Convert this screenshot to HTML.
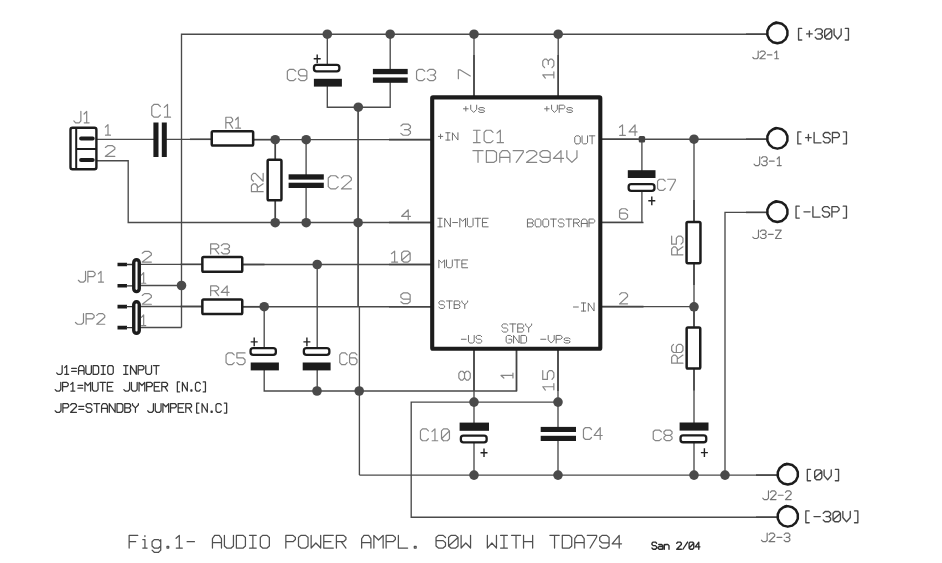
<!DOCTYPE html>
<html><head><meta charset="utf-8"><title>TDA7294 amplifier schematic</title>
<style>html,body{margin:0;padding:0;background:#fff;font-family:"Liberation Sans",sans-serif}svg{display:block}</style>
</head><body>
<svg width="942" height="563" viewBox="0 0 942 563">
<polyline points="181.5,327.5 181.5,34.2 767.0,34.2" fill="none" stroke="#4a4a4a" stroke-width="1.35"/>
<polyline points="140.0,285.5 181.5,285.5" fill="none" stroke="#4a4a4a" stroke-width="1.35"/>
<polyline points="140.0,327.5 181.5,327.5" fill="none" stroke="#4a4a4a" stroke-width="1.35"/>
<polyline points="327.3,34.2 327.3,65.0" fill="none" stroke="#4a4a4a" stroke-width="1.35"/>
<polyline points="327.3,85.0 327.3,107.2 390.2,107.2 390.2,81.0" fill="none" stroke="#4a4a4a" stroke-width="1.35"/>
<polyline points="390.2,34.2 390.2,70.0" fill="none" stroke="#4a4a4a" stroke-width="1.35"/>
<polyline points="358.1,107.2 358.1,306.8" fill="none" stroke="#4a4a4a" stroke-width="1.70"/>
<polyline points="359.4,306.8 359.4,475.1" fill="none" stroke="#4a4a4a" stroke-width="1.35"/>
<polyline points="474.0,34.2 474.0,97.0" fill="none" stroke="#4a4a4a" stroke-width="1.35"/>
<polyline points="558.2,34.2 558.2,97.0" fill="none" stroke="#4a4a4a" stroke-width="1.35"/>
<polyline points="96.0,139.3 154.0,139.3" fill="none" stroke="#4a4a4a" stroke-width="1.35"/>
<polyline points="166.0,139.3 212.0,139.3" fill="none" stroke="#4a4a4a" stroke-width="1.35"/>
<polyline points="253.0,139.6 431.0,139.6" fill="none" stroke="#4a4a4a" stroke-width="1.35"/>
<polyline points="275.3,139.6 275.3,160.0" fill="none" stroke="#4a4a4a" stroke-width="1.35"/>
<polyline points="275.3,200.0 275.3,222.5" fill="none" stroke="#4a4a4a" stroke-width="1.35"/>
<polyline points="306.1,139.6 306.1,175.0" fill="none" stroke="#4a4a4a" stroke-width="1.35"/>
<polyline points="306.1,187.0 306.1,222.5" fill="none" stroke="#4a4a4a" stroke-width="1.35"/>
<polyline points="96.0,160.7 128.2,160.7 128.2,222.5 431.0,222.5" fill="none" stroke="#4a4a4a" stroke-width="1.35"/>
<polyline points="140.0,264.4 202.0,264.4" fill="none" stroke="#4a4a4a" stroke-width="1.35"/>
<polyline points="242.0,264.5 431.0,264.5" fill="none" stroke="#4a4a4a" stroke-width="1.35"/>
<polyline points="317.2,264.5 317.2,349.0" fill="none" stroke="#4a4a4a" stroke-width="1.35"/>
<polyline points="140.0,306.5 202.0,306.5" fill="none" stroke="#4a4a4a" stroke-width="1.35"/>
<polyline points="242.0,306.7 431.0,306.7" fill="none" stroke="#4a4a4a" stroke-width="1.35"/>
<polyline points="264.2,306.7 264.2,349.0" fill="none" stroke="#4a4a4a" stroke-width="1.35"/>
<polyline points="264.2,369.0 264.2,391.0 516.5,391.0 516.5,350.0" fill="none" stroke="#4a4a4a" stroke-width="1.35"/>
<polyline points="317.2,369.0 317.2,391.0" fill="none" stroke="#4a4a4a" stroke-width="1.35"/>
<polyline points="474.0,350.0 474.0,424.0" fill="none" stroke="#4a4a4a" stroke-width="1.35"/>
<polyline points="474.0,442.0 474.0,475.1" fill="none" stroke="#4a4a4a" stroke-width="1.35"/>
<polyline points="558.0,350.0 558.0,428.0" fill="none" stroke="#4a4a4a" stroke-width="1.35"/>
<polyline points="558.0,440.0 558.0,475.1" fill="none" stroke="#4a4a4a" stroke-width="1.35"/>
<polyline points="558.0,402.1 411.2,402.1 411.2,517.2 777.0,517.2" fill="none" stroke="#4a4a4a" stroke-width="1.35"/>
<polyline points="359.4,475.1 777.0,475.1" fill="none" stroke="#4a4a4a" stroke-width="1.35"/>
<polyline points="602.0,139.2 767.0,139.2" fill="none" stroke="#4a4a4a" stroke-width="1.35"/>
<polyline points="641.9,139.2 641.9,171.0" fill="none" stroke="#4a4a4a" stroke-width="1.35"/>
<polyline points="641.9,191.0 641.9,222.4 602.0,222.4" fill="none" stroke="#4a4a4a" stroke-width="1.35"/>
<polyline points="694.0,139.2 694.0,222.0" fill="none" stroke="#4a4a4a" stroke-width="1.35"/>
<polyline points="694.0,263.0 694.0,327.0" fill="none" stroke="#4a4a4a" stroke-width="1.35"/>
<polyline points="694.0,368.0 694.0,423.5" fill="none" stroke="#4a4a4a" stroke-width="1.35"/>
<polyline points="694.0,442.0 694.0,475.1" fill="none" stroke="#4a4a4a" stroke-width="1.35"/>
<polyline points="602.0,306.6 694.0,306.6" fill="none" stroke="#4a4a4a" stroke-width="1.35"/>
<polyline points="767.0,212.4 725.0,212.4 725.0,475.1" fill="none" stroke="#4a4a4a" stroke-width="1.35"/>
<polyline points="389.0,139.6 431.0,139.6" fill="none" stroke="#444444" stroke-width="1.55"/>
<polyline points="389.0,222.5 431.0,222.5" fill="none" stroke="#444444" stroke-width="1.55"/>
<polyline points="389.0,264.5 431.0,264.5" fill="none" stroke="#444444" stroke-width="1.55"/>
<polyline points="389.0,306.7 431.0,306.7" fill="none" stroke="#444444" stroke-width="1.55"/>
<polyline points="602.0,139.2 643.5,139.2" fill="none" stroke="#444444" stroke-width="1.55"/>
<polyline points="602.0,222.4 643.5,222.4" fill="none" stroke="#444444" stroke-width="1.55"/>
<polyline points="602.0,306.6 643.5,306.6" fill="none" stroke="#444444" stroke-width="1.55"/>
<polyline points="474.0,55.0 474.0,97.0" fill="none" stroke="#444444" stroke-width="1.55"/>
<polyline points="558.2,55.0 558.2,97.0" fill="none" stroke="#444444" stroke-width="1.55"/>
<polyline points="474.0,350.0 474.0,391.0" fill="none" stroke="#444444" stroke-width="1.55"/>
<polyline points="516.5,350.0 516.5,391.0" fill="none" stroke="#444444" stroke-width="1.55"/>
<polyline points="558.0,350.0 558.0,391.0" fill="none" stroke="#444444" stroke-width="1.55"/>
<polyline points="190.0,139.3 211.0,139.3" fill="none" stroke="#444444" stroke-width="1.55"/>
<polyline points="254.0,139.6 275.3,139.6" fill="none" stroke="#444444" stroke-width="1.55"/>
<polyline points="180.5,264.4 201.5,264.4" fill="none" stroke="#444444" stroke-width="1.55"/>
<polyline points="243.0,264.5 264.5,264.5" fill="none" stroke="#444444" stroke-width="1.55"/>
<polyline points="180.5,306.5 201.5,306.5" fill="none" stroke="#444444" stroke-width="1.55"/>
<polyline points="243.0,306.7 264.5,306.7" fill="none" stroke="#444444" stroke-width="1.55"/>
<polyline points="694.0,200.0 694.0,221.0" fill="none" stroke="#444444" stroke-width="1.55"/>
<polyline points="694.0,264.0 694.0,285.0" fill="none" stroke="#444444" stroke-width="1.55"/>
<polyline points="694.0,306.8 694.0,326.5" fill="none" stroke="#444444" stroke-width="1.55"/>
<polyline points="694.0,369.5 694.0,390.5" fill="none" stroke="#444444" stroke-width="1.55"/>
<polyline points="275.3,139.6 275.3,159.0" fill="none" stroke="#444444" stroke-width="1.55"/>
<polyline points="275.3,201.0 275.3,222.5" fill="none" stroke="#444444" stroke-width="1.55"/>
<polyline points="746.0,34.2 767.0,34.2" fill="none" stroke="#444444" stroke-width="1.55"/>
<polyline points="746.0,139.2 767.0,139.2" fill="none" stroke="#444444" stroke-width="1.55"/>
<polyline points="746.0,212.4 767.0,212.4" fill="none" stroke="#444444" stroke-width="1.55"/>
<polyline points="756.0,475.1 777.5,475.1" fill="none" stroke="#444444" stroke-width="1.55"/>
<polyline points="756.0,517.2 777.5,517.2" fill="none" stroke="#444444" stroke-width="1.55"/>
<circle cx="327.3" cy="34.2" r="4.8" fill="#4a4a4a"/>
<circle cx="390.2" cy="34.2" r="4.8" fill="#4a4a4a"/>
<circle cx="474.0" cy="34.2" r="4.8" fill="#4a4a4a"/>
<circle cx="558.2" cy="34.2" r="4.8" fill="#4a4a4a"/>
<circle cx="358.3" cy="107.2" r="4.8" fill="#4a4a4a"/>
<circle cx="275.2" cy="139.7" r="4.8" fill="#4a4a4a"/>
<circle cx="306.2" cy="139.7" r="4.8" fill="#4a4a4a"/>
<circle cx="275.2" cy="222.7" r="4.8" fill="#4a4a4a"/>
<circle cx="306.2" cy="222.7" r="4.8" fill="#4a4a4a"/>
<circle cx="358.1" cy="222.7" r="4.8" fill="#4a4a4a"/>
<circle cx="181.5" cy="285.5" r="4.8" fill="#4a4a4a"/>
<circle cx="317.2" cy="264.5" r="4.8" fill="#4a4a4a"/>
<circle cx="264.2" cy="306.7" r="4.8" fill="#4a4a4a"/>
<circle cx="317.0" cy="391.0" r="4.8" fill="#4a4a4a"/>
<circle cx="359.2" cy="391.0" r="4.8" fill="#4a4a4a"/>
<circle cx="474.0" cy="402.1" r="4.8" fill="#4a4a4a"/>
<circle cx="558.0" cy="402.1" r="4.8" fill="#4a4a4a"/>
<circle cx="474.0" cy="475.1" r="4.8" fill="#4a4a4a"/>
<circle cx="558.0" cy="475.1" r="4.8" fill="#4a4a4a"/>
<circle cx="694.0" cy="475.1" r="4.8" fill="#4a4a4a"/>
<circle cx="725.0" cy="475.1" r="4.8" fill="#4a4a4a"/>
<circle cx="694.0" cy="139.2" r="4.8" fill="#4a4a4a"/>
<circle cx="694.0" cy="306.8" r="4.8" fill="#4a4a4a"/>
<rect x="638.7" y="136.0" width="6.4" height="6.4" rx="1.5" fill="#444"/>
<rect x="70.50" y="127.80" width="25.90" height="41.40" rx="2.0" fill="#fff" stroke="#1c1c1c" stroke-width="2.40"/>
<path d="M76.2 127 V170 M76.2 149 H97" stroke="#1c1c1c" stroke-width="2.0" fill="none"/>
<path d="M81.1 138.6 H92.7 M81.1 160.1 H92.7" stroke="#1c1c1c" stroke-width="4.0" stroke-linecap="round" fill="none"/>
<rect x="153.4" y="122.5" width="5.1" height="34.5" fill="#1c1c1c"/>
<rect x="161.8" y="122.5" width="5.0" height="34.5" fill="#1c1c1c"/>
<rect x="211.75" y="131.15" width="41.40" height="14.40" rx="1.3" fill="#fff" stroke="#1c1c1c" stroke-width="2.50"/>
<rect x="267.65" y="159.85" width="13.80" height="40.40" rx="1.3" fill="#fff" stroke="#1c1c1c" stroke-width="2.50"/>
<rect x="202.35" y="257.05" width="39.90" height="14.70" rx="1.3" fill="#fff" stroke="#1c1c1c" stroke-width="2.50"/>
<rect x="202.35" y="299.55" width="39.90" height="14.50" rx="1.3" fill="#fff" stroke="#1c1c1c" stroke-width="2.50"/>
<rect x="686.55" y="222.05" width="13.90" height="41.10" rx="1.3" fill="#fff" stroke="#1c1c1c" stroke-width="2.50"/>
<rect x="686.65" y="327.55" width="13.60" height="41.00" rx="1.3" fill="#fff" stroke="#1c1c1c" stroke-width="2.50"/>
<rect x="288.6" y="174.3" width="35.2" height="5.3" fill="#1c1c1c"/>
<rect x="288.6" y="182.7" width="35.2" height="5.3" fill="#1c1c1c"/>
<rect x="372.9" y="68.9" width="34.8" height="5.3" fill="#1c1c1c"/>
<rect x="372.9" y="77.5" width="34.8" height="5.3" fill="#1c1c1c"/>
<rect x="540.7" y="426.9" width="35.3" height="5.1" fill="#1c1c1c"/>
<rect x="540.7" y="435.8" width="35.3" height="5.2" fill="#1c1c1c"/>
<rect x="313.95" y="64.85" width="25.40" height="6.60" rx="2.6" fill="#fff" stroke="#1c1c1c" stroke-width="2.30"/>
<rect x="313.9" y="78.8" width="28.0" height="7.8" fill="#1c1c1c"/>
<path d="M313.7 58.8 H320.7 M317.2 54.5 V63.2" stroke="#222" stroke-width="1.40" fill="none"/>
<rect x="250.55" y="348.15" width="25.30" height="6.70" rx="2.6" fill="#fff" stroke="#1c1c1c" stroke-width="2.30"/>
<rect x="250.7" y="362.5" width="28.2" height="7.9" fill="#1c1c1c"/>
<path d="M250.7 341.9 H257.7 M254.2 337.6 V346.3" stroke="#222" stroke-width="1.40" fill="none"/>
<rect x="303.85" y="348.15" width="25.50" height="6.70" rx="2.6" fill="#fff" stroke="#1c1c1c" stroke-width="2.30"/>
<rect x="302.7" y="362.5" width="27.9" height="7.9" fill="#1c1c1c"/>
<path d="M303.4 341.9 H310.4 M306.9 337.6 V346.3" stroke="#222" stroke-width="1.40" fill="none"/>
<rect x="627.8" y="170.2" width="27.7" height="7.8" fill="#1c1c1c"/>
<rect x="628.65" y="184.15" width="25.80" height="6.70" rx="2.6" fill="#fff" stroke="#1c1c1c" stroke-width="2.30"/>
<path d="M648.3 200.8 H655.3 M651.8 196.5 V205.2" stroke="#222" stroke-width="1.40" fill="none"/>
<rect x="679.6" y="422.5" width="28.9" height="8.1" fill="#1c1c1c"/>
<rect x="680.55" y="435.45" width="25.70" height="6.80" rx="2.6" fill="#fff" stroke="#1c1c1c" stroke-width="2.30"/>
<path d="M700.9 452.6 H707.9 M704.4 448.3 V457.0" stroke="#222" stroke-width="1.40" fill="none"/>
<rect x="459.6" y="422.6" width="29.4" height="8.2" fill="#1c1c1c"/>
<rect x="460.85" y="435.55" width="25.80" height="6.80" rx="2.6" fill="#fff" stroke="#1c1c1c" stroke-width="2.30"/>
<path d="M480.5 452.7 H487.5 M484.0 448.4 V457.1" stroke="#222" stroke-width="1.40" fill="none"/>
<path d="M117.5 264.5 H127 M117.5 285.8 H127" stroke="#1c1c1c" stroke-width="3.6" fill="none"/>
<path d="M126 264.5 H134 M126 285.8 H134" stroke="#333" stroke-width="1.3" fill="none"/>
<rect x="133.75" y="259.7" width="5.5" height="31.9" rx="2.75" fill="#fff" stroke="#1c1c1c" stroke-width="3.4"/>
<path d="M117.5 306.6 H127 M117.5 327.6 H127" stroke="#1c1c1c" stroke-width="3.6" fill="none"/>
<path d="M126 306.6 H134 M126 327.6 H134" stroke="#333" stroke-width="1.3" fill="none"/>
<rect x="133.75" y="301.8" width="5.5" height="31.5" rx="2.75" fill="#fff" stroke="#1c1c1c" stroke-width="3.4"/>
<rect x="432.2" y="97.4" width="168.1" height="251.4" rx="0.8" fill="none" stroke="#1c1c1c" stroke-width="4.1" stroke-linejoin="round"/>
<polygon points="787.39,35.28 785.41,39.39 781.85,42.23 777.40,43.25 772.95,42.23 769.39,39.39 767.41,35.28 767.41,30.72 769.39,26.61 772.95,23.77 777.40,22.75 781.85,23.77 785.41,26.61 787.39,30.72" fill="#fff" stroke="#1c1c1c" stroke-width="2.5" stroke-linejoin="round"/>
<path d="M774.2 23.1 L776.2 22.4" stroke="#1c1c1c" stroke-width="2.2" stroke-linecap="round"/>
<polygon points="787.39,140.68 785.41,144.79 781.85,147.63 777.40,148.65 772.95,147.63 769.39,144.79 767.41,140.68 767.41,136.12 769.39,132.01 772.95,129.17 777.40,128.15 781.85,129.17 785.41,132.01 787.39,136.12" fill="#fff" stroke="#1c1c1c" stroke-width="2.5" stroke-linejoin="round"/>
<path d="M774.2 128.5 L776.2 127.8" stroke="#1c1c1c" stroke-width="2.2" stroke-linecap="round"/>
<polygon points="787.39,213.98 785.41,218.09 781.85,220.93 777.40,221.95 772.95,220.93 769.39,218.09 767.41,213.98 767.41,209.42 769.39,205.31 772.95,202.47 777.40,201.45 781.85,202.47 785.41,205.31 787.39,209.42" fill="#fff" stroke="#1c1c1c" stroke-width="2.5" stroke-linejoin="round"/>
<path d="M774.2 201.8 L776.2 201.1" stroke="#1c1c1c" stroke-width="2.2" stroke-linecap="round"/>
<polygon points="797.79,476.58 795.81,480.69 792.25,483.53 787.80,484.55 783.35,483.53 779.79,480.69 777.81,476.58 777.81,472.02 779.79,467.91 783.35,465.07 787.80,464.05 792.25,465.07 795.81,467.91 797.79,472.02" fill="#fff" stroke="#1c1c1c" stroke-width="2.5" stroke-linejoin="round"/>
<path d="M784.6 464.4 L786.6 463.7" stroke="#1c1c1c" stroke-width="2.2" stroke-linecap="round"/>
<polygon points="797.79,518.68 795.81,522.79 792.25,525.63 787.80,526.65 783.35,525.63 779.79,522.79 777.81,518.68 777.81,514.12 779.79,510.01 783.35,507.17 787.80,506.15 792.25,507.17 795.81,510.01 797.79,514.12" fill="#fff" stroke="#1c1c1c" stroke-width="2.5" stroke-linejoin="round"/>
<path d="M784.6 506.5 L786.6 505.8" stroke="#1c1c1c" stroke-width="2.2" stroke-linecap="round"/>
<path d="M73.85 120.93 L75.61 122.85 L79.13 122.85 L80.88 120.93 L80.88 111.35 M84.05 114.03 L86.69 111.35 L86.69 122.85 M84.23 122.85 L89.15 122.85" fill="none" stroke="#858585" stroke-width="1.20" stroke-linecap="round" stroke-linejoin="round"/>
<path d="M105.35 127.10 L107.99 124.65 L107.99 135.15 M105.53 135.15 L110.45 135.15" fill="none" stroke="#858585" stroke-width="1.20" stroke-linecap="round" stroke-linejoin="round"/>
<path d="M105.35 147.43 L107.73 145.65 L112.47 145.65 L114.85 147.43 L114.85 149.22 L105.35 156.35 L114.85 156.35" fill="none" stroke="#858585" stroke-width="1.20" stroke-linecap="round" stroke-linejoin="round"/>
<path d="M160.39 106.57 L158.23 104.45 L153.91 104.45 L151.75 106.57 L151.75 115.03 L153.91 117.15 L158.23 117.15 L160.39 115.03 M164.28 107.41 L167.52 104.45 L167.52 117.15 M164.50 117.15 L170.55 117.15" fill="none" stroke="#858585" stroke-width="1.20" stroke-linecap="round" stroke-linejoin="round"/>
<path d="M225.85 128.15 L225.85 117.25 L230.92 117.25 L232.61 119.07 L232.61 120.88 L230.92 122.70 L225.85 122.70 M229.23 122.70 L232.61 128.15 M235.65 119.79 L238.18 117.25 L238.18 128.15 M235.82 128.15 L240.55 128.15" fill="none" stroke="#858585" stroke-width="1.20" stroke-linecap="round" stroke-linejoin="round"/>
<path d="M295.74 71.23 L293.64 69.35 L289.45 69.35 L287.35 71.23 L287.35 78.77 L289.45 80.65 L293.64 80.65 L295.74 78.77 M298.46 78.77 L300.56 80.65 L304.75 80.65 L306.85 78.77 L306.85 71.23 L304.75 69.35 L300.56 69.35 L298.46 71.23 L298.46 74.06 L300.56 75.94 L306.85 75.94" fill="none" stroke="#858585" stroke-width="1.20" stroke-linecap="round" stroke-linejoin="round"/>
<path d="M424.72 71.23 L422.68 69.35 L418.59 69.35 L416.55 71.23 L416.55 78.77 L418.59 80.65 L422.68 80.65 L424.72 78.77 M427.38 71.23 L429.42 69.35 L433.51 69.35 L435.55 71.23 L435.55 73.12 L433.51 75.00 L430.44 75.00 M433.51 75.00 L435.55 76.88 L435.55 78.77 L433.51 80.65 L429.42 80.65 L427.38 78.77" fill="none" stroke="#858585" stroke-width="1.20" stroke-linecap="round" stroke-linejoin="round"/>
<path d="M400.85 125.92 L403.25 124.05 L408.05 124.05 L410.45 125.92 L410.45 127.78 L408.05 129.65 L404.45 129.65 M408.05 129.65 L410.45 131.52 L410.45 133.38 L408.05 135.25 L403.25 135.25 L400.85 133.38" fill="none" stroke="#858585" stroke-width="1.20" stroke-linecap="round" stroke-linejoin="round"/>
<path d="M408.25 219.55 L408.25 209.75 L401.65 216.28 L410.45 216.28" fill="none" stroke="#858585" stroke-width="1.20" stroke-linecap="round" stroke-linejoin="round"/>
<path d="M338.19 177.93 L335.70 175.75 L330.73 175.75 L328.25 177.93 L328.25 186.67 L330.73 188.85 L335.70 188.85 L338.19 186.67 M341.41 177.93 L343.90 175.75 L348.87 175.75 L351.35 177.93 L351.35 180.12 L341.41 188.85 L351.35 188.85" fill="none" stroke="#858585" stroke-width="1.20" stroke-linecap="round" stroke-linejoin="round"/>
<path d="M78.35 280.27 L80.15 282.05 L83.75 282.05 L85.55 280.27 L85.55 271.35 M87.89 282.05 L87.89 271.35 L93.29 271.35 L95.09 273.13 L95.09 274.92 L93.29 276.70 L87.89 276.70 M98.33 273.85 L101.03 271.35 L101.03 282.05 M98.51 282.05 L103.55 282.05" fill="none" stroke="#858585" stroke-width="1.20" stroke-linecap="round" stroke-linejoin="round"/>
<path d="M75.45 322.48 L77.46 324.25 L81.47 324.25 L83.48 322.48 L83.48 313.65 M86.09 324.25 L86.09 313.65 L92.11 313.65 L94.11 315.42 L94.11 317.18 L92.11 318.95 L86.09 318.95 M96.72 315.42 L98.73 313.65 L102.74 313.65 L104.75 315.42 L104.75 317.18 L96.72 324.25 L104.75 324.25" fill="none" stroke="#858585" stroke-width="1.20" stroke-linecap="round" stroke-linejoin="round"/>
<path d="M142.25 253.22 L144.53 251.45 L149.08 251.45 L151.35 253.22 L151.35 254.98 L142.25 262.05 L151.35 262.05" fill="none" stroke="#858585" stroke-width="1.20" stroke-linecap="round" stroke-linejoin="round"/>
<path d="M141.45 275.12 L143.67 272.65 L143.67 283.25 M141.60 283.25 L145.75 283.25" fill="none" stroke="#858585" stroke-width="1.20" stroke-linecap="round" stroke-linejoin="round"/>
<path d="M142.25 295.42 L144.53 293.65 L149.08 293.65 L151.35 295.42 L151.35 297.18 L142.25 304.25 L151.35 304.25" fill="none" stroke="#858585" stroke-width="1.20" stroke-linecap="round" stroke-linejoin="round"/>
<path d="M141.45 317.35 L143.67 314.85 L143.67 325.55 M141.60 325.55 L145.75 325.55" fill="none" stroke="#858585" stroke-width="1.20" stroke-linecap="round" stroke-linejoin="round"/>
<path d="M210.65 253.95 L210.65 243.85 L216.71 243.85 L218.74 245.53 L218.74 247.22 L216.71 248.90 L210.65 248.90 M214.69 248.90 L218.74 253.95 M221.36 245.53 L223.39 243.85 L227.43 243.85 L229.45 245.53 L229.45 247.22 L227.43 248.90 L224.40 248.90 M227.43 248.90 L229.45 250.58 L229.45 252.27 L227.43 253.95 L223.39 253.95 L221.36 252.27" fill="none" stroke="#858585" stroke-width="1.20" stroke-linecap="round" stroke-linejoin="round"/>
<path d="M210.65 295.55 L210.65 285.95 L216.62 285.95 L218.61 287.55 L218.61 289.15 L216.62 290.75 L210.65 290.75 M214.63 290.75 L218.61 295.55 M227.16 295.55 L227.16 285.95 L221.19 292.35 L229.15 292.35" fill="none" stroke="#858585" stroke-width="1.20" stroke-linecap="round" stroke-linejoin="round"/>
<path d="M234.22 354.88 L232.18 352.95 L228.09 352.95 L226.05 354.88 L226.05 362.62 L228.09 364.55 L232.18 364.55 L234.22 362.62 M245.05 352.95 L236.88 352.95 L236.88 357.78 L243.01 357.78 L245.05 359.72 L245.05 362.62 L243.01 364.55 L238.92 364.55 L236.88 362.62" fill="none" stroke="#858585" stroke-width="1.20" stroke-linecap="round" stroke-linejoin="round"/>
<path d="M347.15 354.88 L345.30 352.95 L341.60 352.95 L339.75 354.88 L339.75 362.62 L341.60 364.55 L345.30 364.55 L347.15 362.62 M356.95 354.88 L355.10 352.95 L351.40 352.95 L349.55 354.88 L349.55 362.62 L351.40 364.55 L355.10 364.55 L356.95 362.62 L356.95 359.72 L355.10 357.78 L349.55 357.78" fill="none" stroke="#858585" stroke-width="1.20" stroke-linecap="round" stroke-linejoin="round"/>
<path d="M391.45 253.69 L394.64 251.15 L394.64 262.05 M391.66 262.05 L397.61 262.05 M403.78 262.05 L401.65 260.23 L401.65 252.97 L403.78 251.15 L408.03 251.15 L410.15 252.97 L410.15 260.23 L408.03 262.05 L403.78 262.05 M401.65 260.23 L410.15 252.97" fill="none" stroke="#858585" stroke-width="1.20" stroke-linecap="round" stroke-linejoin="round"/>
<path d="M400.85 301.78 L403.17 303.55 L407.83 303.55 L410.15 301.78 L410.15 294.72 L407.83 292.95 L403.17 292.95 L400.85 294.72 L400.85 297.37 L403.17 299.13 L410.15 299.13" fill="none" stroke="#858585" stroke-width="1.20" stroke-linecap="round" stroke-linejoin="round"/>
<path d="M473.45 142.65 L480.12 142.65 M476.78 142.65 L476.78 130.25 M473.45 130.25 L480.12 130.25 M493.01 132.32 L490.78 130.25 L486.34 130.25 L484.12 132.32 L484.12 140.58 L486.34 142.65 L490.78 142.65 L493.01 140.58 M497.01 133.14 L500.34 130.25 L500.34 142.65 M497.23 142.65 L503.45 142.65" fill="none" stroke="#858585" stroke-width="1.20" stroke-linecap="round" stroke-linejoin="round"/>
<path d="M472.95 150.65 L483.07 150.65 M478.01 150.65 L478.01 162.35 M486.36 162.35 L486.36 150.65 L493.95 150.65 L496.48 152.60 L496.48 160.40 L493.95 162.35 L486.36 162.35 M499.77 162.35 L499.77 153.57 L502.30 150.65 L507.36 150.65 L509.89 153.57 L509.89 162.35 M499.77 157.28 L509.89 157.28 M513.18 150.65 L523.31 150.65 L523.31 152.21 L516.22 162.35 M526.59 152.60 L529.13 150.65 L534.19 150.65 L536.72 152.60 L536.72 154.55 L526.59 162.35 L536.72 162.35 M540.01 160.40 L542.54 162.35 L547.60 162.35 L550.13 160.40 L550.13 152.60 L547.60 150.65 L542.54 150.65 L540.01 152.60 L540.01 155.53 L542.54 157.47 L550.13 157.47 M561.01 162.35 L561.01 150.65 L553.42 158.45 L563.54 158.45 M566.83 150.65 L566.83 157.47 L571.89 162.35 L576.95 157.47 L576.95 150.65" fill="none" stroke="#858585" stroke-width="1.20" stroke-linecap="round" stroke-linejoin="round"/>
<path d="M619.55 127.32 L622.53 124.85 L622.53 135.45 M619.75 135.45 L625.32 135.45 M635.06 135.45 L635.06 124.85 L629.10 131.92 L637.05 131.92" fill="none" stroke="#858585" stroke-width="1.20" stroke-linecap="round" stroke-linejoin="round"/>
<path d="M627.55 210.48 L625.55 208.75 L621.55 208.75 L619.55 210.48 L619.55 217.42 L621.55 219.15 L625.55 219.15 L627.55 217.42 L627.55 214.82 L625.55 213.08 L619.55 213.08" fill="none" stroke="#858585" stroke-width="1.20" stroke-linecap="round" stroke-linejoin="round"/>
<path d="M619.55 294.60 L621.55 292.75 L625.55 292.75 L627.55 294.60 L627.55 296.45 L619.55 303.85 L627.55 303.85" fill="none" stroke="#858585" stroke-width="1.20" stroke-linecap="round" stroke-linejoin="round"/>
<path d="M665.21 181.10 L663.29 179.25 L659.46 179.25 L657.55 181.10 L657.55 188.50 L659.46 190.35 L663.29 190.35 L665.21 188.50 M667.69 179.25 L675.35 179.25 L675.35 180.73 L669.99 190.35" fill="none" stroke="#858585" stroke-width="1.20" stroke-linecap="round" stroke-linejoin="round"/>
<path d="M661.34 431.82 L659.31 430.05 L655.27 430.05 L653.25 431.82 L653.25 438.88 L655.27 440.65 L659.31 440.65 L661.34 438.88 M665.99 435.35 L663.96 433.58 L663.96 431.82 L665.99 430.05 L670.03 430.05 L672.05 431.82 L672.05 433.58 L670.03 435.35 L665.99 435.35 L663.96 437.12 L663.96 438.88 L665.99 440.65 L670.03 440.65 L672.05 438.88 L672.05 437.12 L670.03 435.35" fill="none" stroke="#858585" stroke-width="1.20" stroke-linecap="round" stroke-linejoin="round"/>
<path d="M428.40 430.83 L426.41 428.85 L422.44 428.85 L420.45 430.83 L420.45 438.77 L422.44 440.75 L426.41 440.75 L428.40 438.77 M431.97 431.63 L434.95 428.85 L434.95 440.75 M432.17 440.75 L437.73 440.75 M443.49 440.75 L441.50 438.77 L441.50 430.83 L443.49 428.85 L447.46 428.85 L449.45 430.83 L449.45 438.77 L447.46 440.75 L443.49 440.75 M441.50 438.77 L449.45 430.83" fill="none" stroke="#858585" stroke-width="1.20" stroke-linecap="round" stroke-linejoin="round"/>
<path d="M591.54 429.53 L589.51 427.55 L585.47 427.55 L583.45 429.53 L583.45 437.47 L585.47 439.45 L589.51 439.45 L591.54 437.47 M600.23 439.45 L600.23 427.55 L594.16 435.48 L602.25 435.48" fill="none" stroke="#858585" stroke-width="1.20" stroke-linecap="round" stroke-linejoin="round"/>
<path d="M752.85 57.47 L754.18 58.75 L756.84 58.75 L758.18 57.47 L758.18 51.05 M759.91 52.33 L761.24 51.05 L763.90 51.05 L765.23 52.33 L765.23 53.62 L759.91 58.75 L765.23 58.75 M767.36 54.90 L771.89 54.90 M774.69 52.85 L776.69 51.05 L776.69 58.75 M774.82 58.75 L778.55 58.75" fill="none" stroke="#747474" stroke-width="1.15" stroke-linecap="round" stroke-linejoin="round"/>
<path d="M754.05 164.08 L755.46 165.55 L758.28 165.55 L759.69 164.08 L759.69 156.75 M761.52 158.22 L762.93 156.75 L765.75 156.75 L767.16 158.22 L767.16 159.68 L765.75 161.15 L763.63 161.15 M765.75 161.15 L767.16 162.62 L767.16 164.08 L765.75 165.55 L762.93 165.55 L761.52 164.08 M769.41 161.15 L774.20 161.15 M777.16 158.80 L779.28 156.75 L779.28 165.55 M777.30 165.55 L781.25 165.55" fill="none" stroke="#747474" stroke-width="1.15" stroke-linecap="round" stroke-linejoin="round"/>
<path d="M752.75 237.07 L754.18 238.45 L757.05 238.45 L758.48 237.07 L758.48 230.15 M760.34 231.53 L761.77 230.15 L764.64 230.15 L766.07 231.53 L766.07 232.92 L764.64 234.30 L762.49 234.30 M764.64 234.30 L766.07 235.68 L766.07 237.07 L764.64 238.45 L761.77 238.45 L760.34 237.07 M768.36 234.30 L773.23 234.30 M775.52 230.15 L781.25 230.15 L775.52 238.45 L781.25 238.45" fill="none" stroke="#747474" stroke-width="1.15" stroke-linecap="round" stroke-linejoin="round"/>
<path d="M762.75 498.10 L764.18 499.55 L767.03 499.55 L768.46 498.10 L768.46 490.85 M770.31 492.30 L771.74 490.85 L774.60 490.85 L776.02 492.30 L776.02 493.75 L770.31 499.55 L776.02 499.55 M778.31 495.20 L783.16 495.20 M785.44 492.30 L786.87 490.85 L789.72 490.85 L791.15 492.30 L791.15 493.75 L785.44 499.55 L791.15 499.55" fill="none" stroke="#747474" stroke-width="1.15" stroke-linecap="round" stroke-linejoin="round"/>
<path d="M761.45 540.23 L762.88 541.65 L765.73 541.65 L767.16 540.23 L767.16 533.15 M769.01 534.57 L770.44 533.15 L773.30 533.15 L774.72 534.57 L774.72 535.98 L769.01 541.65 L774.72 541.65 M777.01 537.40 L781.86 537.40 M784.14 534.57 L785.57 533.15 L788.42 533.15 L789.85 534.57 L789.85 535.98 L788.42 537.40 L786.28 537.40 M788.42 537.40 L789.85 538.82 L789.85 540.23 L788.42 541.65 L785.57 541.65 L784.14 540.23" fill="none" stroke="#747474" stroke-width="1.15" stroke-linecap="round" stroke-linejoin="round"/>
<path d="M263.15 191.65 L251.45 191.65 L251.45 185.75 L253.40 183.78 L255.35 183.78 L257.30 185.75 L257.30 191.65 M257.30 187.71 L263.15 183.78 M253.40 181.22 L251.45 179.25 L251.45 175.32 L253.40 173.35 L255.35 173.35 L263.15 181.22 L263.15 173.35" fill="none" stroke="#858585" stroke-width="1.20" stroke-linecap="round" stroke-linejoin="round"/>
<path d="M458.35 78.65 L458.35 69.85 L459.94 69.85 L470.25 76.01" fill="none" stroke="#858585" stroke-width="1.20" stroke-linecap="round" stroke-linejoin="round"/>
<path d="M545.34 78.15 L542.75 74.89 L553.85 74.89 M553.85 77.93 L553.85 71.86 M544.60 67.73 L542.75 65.56 L542.75 61.22 L544.60 59.05 L546.45 59.05 L548.30 61.22 L548.30 64.48 M548.30 61.22 L550.15 59.05 L552.00 59.05 L553.85 61.22 L553.85 65.56 L552.00 67.73" fill="none" stroke="#858585" stroke-width="1.20" stroke-linecap="round" stroke-linejoin="round"/>
<path d="M464.55 377.93 L462.65 380.15 L460.75 380.15 L458.85 377.93 L458.85 373.48 L460.75 371.25 L462.65 371.25 L464.55 373.48 L464.55 377.93 L466.45 380.15 L468.35 380.15 L470.25 377.93 L470.25 373.48 L468.35 371.25 L466.45 371.25 L464.55 373.48" fill="none" stroke="#858585" stroke-width="1.20" stroke-linecap="round" stroke-linejoin="round"/>
<path d="M503.83 378.05 L501.05 375.46 L512.95 375.46 M512.95 377.88 L512.95 373.05" fill="none" stroke="#858585" stroke-width="1.20" stroke-linecap="round" stroke-linejoin="round"/>
<path d="M545.34 390.05 L542.75 386.73 L553.85 386.73 M553.85 389.83 L553.85 383.62 M542.75 370.55 L542.75 379.41 L547.38 379.41 L547.38 372.77 L549.22 370.55 L552.00 370.55 L553.85 372.77 L553.85 377.20 L552.00 379.41" fill="none" stroke="#858585" stroke-width="1.20" stroke-linecap="round" stroke-linejoin="round"/>
<path d="M682.95 254.85 L671.65 254.85 L671.65 248.82 L673.53 246.81 L675.42 246.81 L677.30 248.82 L677.30 254.85 M677.30 250.83 L682.95 246.81 M671.65 236.15 L671.65 244.19 L676.36 244.19 L676.36 238.16 L678.24 236.15 L681.07 236.15 L682.95 238.16 L682.95 242.18 L681.07 244.19" fill="none" stroke="#858585" stroke-width="1.20" stroke-linecap="round" stroke-linejoin="round"/>
<path d="M682.95 363.15 L671.65 363.15 L671.65 357.12 L673.53 355.11 L675.42 355.11 L677.30 357.12 L677.30 363.15 M677.30 359.13 L682.95 355.11 M673.53 344.45 L671.65 346.46 L671.65 350.48 L673.53 352.49 L681.07 352.49 L682.95 350.48 L682.95 346.46 L681.07 344.45 L678.24 344.45 L676.36 346.46 L676.36 352.49" fill="none" stroke="#858585" stroke-width="1.20" stroke-linecap="round" stroke-linejoin="round"/>
<path d="M463.45 108.80 L468.20 108.80 M465.83 110.99 L465.83 106.61 M470.73 105.15 L470.73 109.41 L473.70 112.45 L476.67 109.41 L476.67 105.15 M484.55 108.44 L483.06 107.58 L480.09 107.58 L478.61 108.44 L478.61 109.17 L480.09 110.02 L483.06 110.02 L484.55 110.87 L484.55 111.60 L483.06 112.45 L480.09 112.45 L478.61 111.60" fill="none" stroke="#6e6e6e" stroke-width="1.00" stroke-linecap="round" stroke-linejoin="round"/>
<path d="M544.55 108.80 L549.14 108.80 M546.85 110.99 L546.85 106.61 M551.59 105.15 L551.59 109.41 L554.46 112.45 L557.33 109.41 L557.33 105.15 M559.20 112.45 L559.20 105.15 L563.50 105.15 L564.94 106.37 L564.94 107.58 L563.50 108.80 L559.20 108.80 M572.55 108.44 L571.11 107.58 L568.24 107.58 L566.81 108.44 L566.81 109.17 L568.24 110.02 L571.11 110.02 L572.55 110.87 L572.55 111.60 L571.11 112.45 L568.24 112.45 L566.81 111.60" fill="none" stroke="#6e6e6e" stroke-width="1.00" stroke-linecap="round" stroke-linejoin="round"/>
<path d="M438.35 136.40 L442.77 136.40 M440.56 138.59 L440.56 134.21 M445.80 140.05 L449.94 140.05 M447.87 140.05 L447.87 132.75 M445.80 132.75 L449.94 132.75 M452.43 140.05 L452.43 132.75 L457.95 140.05 L457.95 132.75" fill="none" stroke="#6e6e6e" stroke-width="1.00" stroke-linecap="round" stroke-linejoin="round"/>
<path d="M576.13 143.85 L574.75 142.52 L574.75 137.18 L576.13 135.85 L578.88 135.85 L580.26 137.18 L580.26 142.52 L578.88 143.85 L576.13 143.85 M582.05 135.85 L582.05 142.52 L583.42 143.85 L586.18 143.85 L587.55 142.52 L587.55 135.85 M589.34 135.85 L594.85 135.85 M592.10 135.85 L592.10 143.85" fill="none" stroke="#6e6e6e" stroke-width="1.00" stroke-linecap="round" stroke-linejoin="round"/>
<path d="M437.85 226.85 L442.12 226.85 M439.99 226.85 L439.99 218.25 M437.85 218.25 L442.12 218.25 M444.69 226.85 L444.69 218.25 L450.39 226.85 L450.39 218.25 M452.67 222.55 L457.51 222.55 M459.79 226.85 L459.79 218.25 L462.64 221.40 L465.49 218.25 L465.49 226.85 M467.35 218.25 L467.35 225.42 L468.77 226.85 L471.62 226.85 L473.05 225.42 L473.05 218.25 M474.90 218.25 L480.60 218.25 M477.75 218.25 L477.75 226.85 M488.15 226.85 L482.45 226.85 L482.45 218.25 L488.15 218.25 M482.45 222.55 L486.73 222.55" fill="none" stroke="#6e6e6e" stroke-width="1.00" stroke-linecap="round" stroke-linejoin="round"/>
<path d="M527.45 226.85 L527.45 219.05 L531.81 219.05 L533.26 220.35 L533.26 221.65 L531.81 222.95 L527.45 222.95 M531.81 222.95 L533.26 224.25 L533.26 225.55 L531.81 226.85 L527.45 226.85 M536.60 226.85 L535.15 225.55 L535.15 220.35 L536.60 219.05 L539.51 219.05 L540.96 220.35 L540.96 225.55 L539.51 226.85 L536.60 226.85 M544.30 226.85 L542.85 225.55 L542.85 220.35 L544.30 219.05 L547.21 219.05 L548.66 220.35 L548.66 225.55 L547.21 226.85 L544.30 226.85 M550.55 219.05 L556.36 219.05 M553.45 219.05 L553.45 226.85 M564.06 220.35 L562.60 219.05 L559.70 219.05 L558.24 220.35 L558.24 221.65 L559.70 222.95 L562.60 222.95 L564.06 224.25 L564.06 225.55 L562.60 226.85 L559.70 226.85 L558.24 225.55 M565.94 219.05 L571.75 219.05 M568.85 219.05 L568.85 226.85 M573.64 226.85 L573.64 219.05 L578.00 219.05 L579.45 220.35 L579.45 221.65 L578.00 222.95 L573.64 222.95 M576.55 222.95 L579.45 226.85 M581.34 226.85 L581.34 221.00 L582.79 219.05 L585.70 219.05 L587.15 221.00 L587.15 226.85 M581.34 223.47 L587.15 223.47 M589.04 226.85 L589.04 219.05 L593.40 219.05 L594.85 220.35 L594.85 221.65 L593.40 222.95 L589.04 222.95" fill="none" stroke="#6e6e6e" stroke-width="1.00" stroke-linecap="round" stroke-linejoin="round"/>
<path d="M438.85 267.75 L438.85 259.95 L441.74 262.81 L444.64 259.95 L444.64 267.75 M446.52 259.95 L446.52 266.45 L447.97 267.75 L450.86 267.75 L452.31 266.45 L452.31 259.95 M454.19 259.95 L459.98 259.95 M457.09 259.95 L457.09 267.75 M467.65 267.75 L461.86 267.75 L461.86 259.95 L467.65 259.95 M461.86 263.85 L466.20 263.85" fill="none" stroke="#6e6e6e" stroke-width="1.00" stroke-linecap="round" stroke-linejoin="round"/>
<path d="M444.64 302.20 L443.19 300.95 L440.30 300.95 L438.85 302.20 L438.85 303.45 L440.30 304.70 L443.19 304.70 L444.64 305.95 L444.64 307.20 L443.19 308.45 L440.30 308.45 L438.85 307.20 M446.52 300.95 L452.31 300.95 M449.41 300.95 L449.41 308.45 M454.19 308.45 L454.19 300.95 L458.53 300.95 L459.98 302.20 L459.98 303.45 L458.53 304.70 L454.19 304.70 M458.53 304.70 L459.98 305.95 L459.98 307.20 L458.53 308.45 L454.19 308.45 M461.86 300.95 L461.86 302.20 L464.76 304.70 L467.65 302.20 L467.65 300.95 M464.76 304.70 L464.76 308.45" fill="none" stroke="#6e6e6e" stroke-width="1.00" stroke-linecap="round" stroke-linejoin="round"/>
<path d="M573.45 307.00 L578.35 307.00 M581.37 311.05 L585.69 311.05 M583.53 311.05 L583.53 302.95 M581.37 302.95 L585.69 302.95 M588.29 311.05 L588.29 302.95 L594.05 311.05 L594.05 302.95" fill="none" stroke="#6e6e6e" stroke-width="1.00" stroke-linecap="round" stroke-linejoin="round"/>
<path d="M461.35 339.25 L466.20 339.25 M468.48 335.45 L468.48 341.78 L469.91 343.05 L472.76 343.05 L474.19 341.78 L474.19 335.45 M481.75 336.72 L480.32 335.45 L477.47 335.45 L476.04 336.72 L476.04 337.98 L477.47 339.25 L480.32 339.25 L481.75 340.52 L481.75 341.78 L480.32 343.05 L477.47 343.05 L476.04 341.78" fill="none" stroke="#6e6e6e" stroke-width="1.00" stroke-linecap="round" stroke-linejoin="round"/>
<path d="M507.84 325.30 L506.34 323.95 L503.35 323.95 L501.85 325.30 L501.85 326.65 L503.35 328.00 L506.34 328.00 L507.84 329.35 L507.84 330.70 L506.34 332.05 L503.35 332.05 L501.85 330.70 M509.79 323.95 L515.78 323.95 M512.78 323.95 L512.78 332.05 M517.72 332.05 L517.72 323.95 L522.22 323.95 L523.71 325.30 L523.71 326.65 L522.22 328.00 L517.72 328.00 M522.22 328.00 L523.71 329.35 L523.71 330.70 L522.22 332.05 L517.72 332.05 M525.66 323.95 L525.66 325.30 L528.66 328.00 L531.65 325.30 L531.65 323.95 M528.66 328.00 L528.66 332.05" fill="none" stroke="#6e6e6e" stroke-width="1.00" stroke-linecap="round" stroke-linejoin="round"/>
<path d="M511.74 336.72 L510.34 335.45 L507.55 335.45 L506.15 336.72 L506.15 341.78 L507.55 343.05 L510.34 343.05 L511.74 341.78 L511.74 339.25 L508.94 339.25 M513.56 343.05 L513.56 335.45 L519.14 343.05 L519.14 335.45 M520.96 343.05 L520.96 335.45 L525.15 335.45 L526.55 336.72 L526.55 341.78 L525.15 343.05 L520.96 343.05" fill="none" stroke="#6e6e6e" stroke-width="1.00" stroke-linecap="round" stroke-linejoin="round"/>
<path d="M540.75 339.25 L545.83 339.25 M548.22 335.45 L548.22 339.88 L551.21 343.05 L554.20 339.88 L554.20 335.45 M556.15 343.05 L556.15 335.45 L560.63 335.45 L562.13 336.72 L562.13 337.98 L560.63 339.25 L556.15 339.25 M570.05 338.87 L568.56 337.98 L565.57 337.98 L564.07 338.87 L564.07 339.63 L565.57 340.52 L568.56 340.52 L570.05 341.40 L570.05 342.16 L568.56 343.05 L565.57 343.05 L564.07 342.16" fill="none" stroke="#6e6e6e" stroke-width="1.00" stroke-linecap="round" stroke-linejoin="round"/>
<path d="M801.75 28.34 L798.55 28.34 L798.55 39.96 L801.75 39.96 M806.54 33.90 L812.22 33.90 M809.38 36.93 L809.38 30.87 M815.24 30.53 L817.02 28.85 L820.57 28.85 L822.35 30.53 L822.35 32.22 L820.57 33.90 L817.91 33.90 M820.57 33.90 L822.35 35.58 L822.35 37.27 L820.57 38.95 L817.02 38.95 L815.24 37.27 M826.43 38.95 L824.65 37.27 L824.65 30.53 L826.43 28.85 L829.98 28.85 L831.76 30.53 L831.76 37.27 L829.98 38.95 L826.43 38.95 M824.65 37.27 L831.76 30.53 M834.07 28.85 L834.07 34.74 L837.62 38.95 L841.17 34.74 L841.17 28.85 M845.25 28.34 L848.45 28.34 L848.45 39.96 L845.25 39.96" fill="none" stroke="#484848" stroke-width="1.35" stroke-linecap="round" stroke-linejoin="round"/>
<path d="M800.96 131.93 L797.85 131.93 L797.85 143.89 L800.96 143.89 M805.63 137.65 L811.17 137.65 M808.40 140.77 L808.40 134.53 M814.11 132.45 L814.11 142.85 L821.03 142.85 M830.19 134.18 L828.46 132.45 L825.00 132.45 L823.27 134.18 L823.27 135.92 L825.00 137.65 L828.46 137.65 L830.19 139.38 L830.19 141.12 L828.46 142.85 L825.00 142.85 L823.27 141.12 M832.44 142.85 L832.44 132.45 L837.63 132.45 L839.36 134.18 L839.36 135.92 L837.63 137.65 L832.44 137.65 M843.34 131.93 L846.45 131.93 L846.45 143.89 L843.34 143.89" fill="none" stroke="#484848" stroke-width="1.35" stroke-linecap="round" stroke-linejoin="round"/>
<path d="M799.28 206.13 L796.05 206.13 L796.05 218.09 L799.28 218.09 M803.94 211.85 L810.04 211.85 M812.91 206.65 L812.91 217.05 L820.08 217.05 M829.59 208.38 L827.80 206.65 L824.21 206.65 L822.42 208.38 L822.42 210.12 L824.21 211.85 L827.80 211.85 L829.59 213.58 L829.59 215.32 L827.80 217.05 L824.21 217.05 L822.42 215.32 M831.92 217.05 L831.92 206.65 L837.30 206.65 L839.10 208.38 L839.10 210.12 L837.30 211.85 L831.92 211.85 M843.22 206.13 L846.45 206.13 L846.45 218.09 L843.22 218.09" fill="none" stroke="#484848" stroke-width="1.35" stroke-linecap="round" stroke-linejoin="round"/>
<path d="M810.56 469.35 L807.35 469.35 L807.35 480.74 L810.56 480.74 M816.44 479.75 L814.66 478.10 L814.66 471.50 L816.44 469.85 L820.01 469.85 L821.79 471.50 L821.79 478.10 L820.01 479.75 L816.44 479.75 M814.66 478.10 L821.79 471.50 M824.11 469.85 L824.11 475.62 L827.67 479.75 L831.24 475.62 L831.24 469.85 M835.34 469.35 L838.55 469.35 L838.55 480.74 L835.34 480.74" fill="none" stroke="#484848" stroke-width="1.35" stroke-linecap="round" stroke-linejoin="round"/>
<path d="M809.18 510.94 L805.85 510.94 L805.85 522.78 L809.18 522.78 M813.99 516.60 L820.28 516.60 M823.25 513.17 L825.10 511.45 L828.80 511.45 L830.65 513.17 L830.65 514.88 L828.80 516.60 L826.02 516.60 M828.80 516.60 L830.65 518.32 L830.65 520.03 L828.80 521.75 L825.10 521.75 L823.25 520.03 M834.90 521.75 L833.05 520.03 L833.05 513.17 L834.90 511.45 L838.60 511.45 L840.45 513.17 L840.45 520.03 L838.60 521.75 L834.90 521.75 M833.05 520.03 L840.45 513.17 M842.86 511.45 L842.86 517.46 L846.56 521.75 L850.26 517.46 L850.26 511.45 M854.52 510.94 L857.85 510.94 L857.85 522.78 L854.52 522.78" fill="none" stroke="#484848" stroke-width="1.35" stroke-linecap="round" stroke-linejoin="round"/>
<path d="M56.65 372.88 L58.03 374.35 L60.78 374.35 L62.16 372.88 L62.16 365.55 M64.64 367.60 L66.70 365.55 L66.70 374.35 M64.78 374.35 L68.63 374.35 M71.66 371.42 L76.34 371.42 M71.66 368.48 L76.34 368.48 M78.55 374.35 L78.55 367.75 L79.92 365.55 L82.68 365.55 L84.05 367.75 L84.05 374.35 M78.55 370.54 L84.05 370.54 M85.85 365.55 L85.85 372.88 L87.22 374.35 L89.98 374.35 L91.35 372.88 L91.35 365.55 M93.14 374.35 L93.14 365.55 L97.28 365.55 L98.65 367.02 L98.65 372.88 L97.28 374.35 L93.14 374.35 M101.13 374.35 L105.26 374.35 M103.20 374.35 L103.20 365.55 M101.13 365.55 L105.26 365.55 M109.12 374.35 L107.74 372.88 L107.74 367.02 L109.12 365.55 L111.87 365.55 L113.25 367.02 L113.25 372.88 L111.87 374.35 L109.12 374.35" fill="none" stroke="#363636" stroke-width="1.25" stroke-linecap="round" stroke-linejoin="round"/>
<path d="M123.65 374.35 L127.96 374.35 M125.81 374.35 L125.81 365.55 M123.65 365.55 L127.96 365.55 M130.55 374.35 L130.55 365.55 L136.30 374.35 L136.30 365.55 M138.17 374.35 L138.17 365.55 L142.48 365.55 L143.92 367.02 L143.92 368.48 L142.48 369.95 L138.17 369.95 M145.78 365.55 L145.78 372.88 L147.22 374.35 L150.10 374.35 L151.53 372.88 L151.53 365.55 M153.40 365.55 L159.15 365.55 M156.28 365.55 L156.28 374.35" fill="none" stroke="#363636" stroke-width="1.25" stroke-linecap="round" stroke-linejoin="round"/>
<path d="M55.15 389.60 L56.56 391.05 L59.37 391.05 L60.78 389.60 L60.78 382.35 M62.60 391.05 L62.60 382.35 L66.82 382.35 L68.23 383.80 L68.23 385.25 L66.82 386.70 L62.60 386.70 M70.76 384.38 L72.87 382.35 L72.87 391.05 M70.90 391.05 L74.84 391.05 M77.93 388.15 L82.71 388.15 M77.93 385.25 L82.71 385.25 M84.96 391.05 L84.96 382.35 L87.78 385.54 L90.59 382.35 L90.59 391.05 M92.42 382.35 L92.42 389.60 L93.82 391.05 L96.64 391.05 L98.04 389.60 L98.04 382.35 M99.87 382.35 L105.50 382.35 M102.68 382.35 L102.68 391.05 M112.95 391.05 L107.32 391.05 L107.32 382.35 L112.95 382.35 M107.32 386.70 L111.54 386.70" fill="none" stroke="#363636" stroke-width="1.25" stroke-linecap="round" stroke-linejoin="round"/>
<path d="M123.85 389.60 L125.28 391.05 L128.15 391.05 L129.58 389.60 L129.58 382.35 M131.44 382.35 L131.44 389.60 L132.88 391.05 L135.74 391.05 L137.17 389.60 L137.17 382.35 M139.04 391.05 L139.04 382.35 L141.90 385.54 L144.77 382.35 L144.77 391.05 M146.63 391.05 L146.63 382.35 L150.93 382.35 L152.36 383.80 L152.36 385.25 L150.93 386.70 L146.63 386.70 M159.96 391.05 L154.23 391.05 L154.23 382.35 L159.96 382.35 M154.23 386.70 L158.52 386.70 M161.82 391.05 L161.82 382.35 L166.12 382.35 L167.55 383.80 L167.55 385.25 L166.12 386.70 L161.82 386.70 M164.68 386.70 L167.55 391.05" fill="none" stroke="#363636" stroke-width="1.25" stroke-linecap="round" stroke-linejoin="round"/>
<path d="M179.57 381.91 L177.35 381.91 L177.35 391.92 L179.57 391.92 M182.40 391.05 L182.40 382.35 L187.33 391.05 L187.33 382.35 M190.91 391.05 L191.89 391.05 L191.89 389.89 L190.91 389.89 L190.91 391.05 M200.40 383.80 L199.16 382.35 L196.70 382.35 L195.47 383.80 L195.47 389.60 L196.70 391.05 L199.16 391.05 L200.40 389.60 M203.23 381.91 L205.45 381.91 L205.45 391.92 L203.23 391.92" fill="none" stroke="#363636" stroke-width="1.25" stroke-linecap="round" stroke-linejoin="round"/>
<path d="M55.15 410.80 L56.61 412.25 L59.53 412.25 L60.99 410.80 L60.99 403.55 M62.89 412.25 L62.89 403.55 L67.27 403.55 L68.72 405.00 L68.72 406.45 L67.27 407.90 L62.89 407.90 M70.62 405.00 L72.08 403.55 L75.00 403.55 L76.46 405.00 L76.46 406.45 L70.62 412.25 L76.46 412.25 M78.80 409.35 L83.76 409.35 M78.80 406.45 L83.76 406.45 M91.93 405.00 L90.47 403.55 L87.55 403.55 L86.09 405.00 L86.09 406.45 L87.55 407.90 L90.47 407.90 L91.93 409.35 L91.93 410.80 L90.47 412.25 L87.55 412.25 L86.09 410.80 M93.83 403.55 L99.67 403.55 M96.75 403.55 L96.75 412.25 M101.57 412.25 L101.57 405.73 L103.03 403.55 L105.95 403.55 L107.41 405.73 L107.41 412.25 M101.57 408.48 L107.41 408.48 M109.30 412.25 L109.30 403.55 L115.14 412.25 L115.14 403.55 M117.04 412.25 L117.04 403.55 L121.42 403.55 L122.88 405.00 L122.88 410.80 L121.42 412.25 L117.04 412.25 M124.78 412.25 L124.78 403.55 L129.15 403.55 L130.61 405.00 L130.61 406.45 L129.15 407.90 L124.78 407.90 M129.15 407.90 L130.61 409.35 L130.61 410.80 L129.15 412.25 L124.78 412.25 M132.51 403.55 L132.51 405.00 L135.43 407.90 L138.35 405.00 L138.35 403.55 M135.43 407.90 L135.43 412.25" fill="none" stroke="#363636" stroke-width="1.25" stroke-linecap="round" stroke-linejoin="round"/>
<path d="M147.65 410.80 L149.09 412.25 L151.97 412.25 L153.41 410.80 L153.41 403.55 M155.28 403.55 L155.28 410.80 L156.72 412.25 L159.60 412.25 L161.04 410.80 L161.04 403.55 M162.91 412.25 L162.91 403.55 L165.79 406.74 L168.66 403.55 L168.66 412.25 M170.54 412.25 L170.54 403.55 L174.85 403.55 L176.29 405.00 L176.29 406.45 L174.85 407.90 L170.54 407.90 M183.92 412.25 L178.16 412.25 L178.16 403.55 L183.92 403.55 M178.16 407.90 L182.48 407.90 M185.79 412.25 L185.79 403.55 L190.11 403.55 L191.55 405.00 L191.55 406.45 L190.11 407.90 L185.79 407.90 M188.67 407.90 L191.55 412.25" fill="none" stroke="#363636" stroke-width="1.25" stroke-linecap="round" stroke-linejoin="round"/>
<path d="M199.02 403.12 L196.65 403.12 L196.65 413.12 L199.02 413.12 M202.04 412.25 L202.04 403.55 L207.31 412.25 L207.31 403.55 M211.12 412.25 L212.18 412.25 L212.18 411.09 L211.12 411.09 L211.12 412.25 M221.26 405.00 L219.94 403.55 L217.31 403.55 L215.99 405.00 L215.99 410.80 L217.31 412.25 L219.94 412.25 L221.26 410.80 M224.28 403.12 L226.65 403.12 L226.65 413.12 L224.28 413.12" fill="none" stroke="#363636" stroke-width="1.25" stroke-linecap="round" stroke-linejoin="round"/>
<path d="M129.15 548.05 L129.15 535.35 L137.80 535.35 M129.15 541.70 L135.64 541.70 M142.77 539.58 L144.93 539.58 L144.93 548.05 M142.77 548.05 L147.10 548.05 M144.93 536.62 L144.93 535.56 M160.72 539.58 L160.72 550.17 L158.56 552.28 L154.23 552.28 L152.07 550.17 M160.72 545.93 L158.56 548.05 L154.23 548.05 L152.07 545.93 L152.07 541.70 L154.23 539.58 L158.56 539.58 L160.72 541.70 M166.99 548.05 L168.72 548.05 L168.72 546.36 L166.99 546.36 L166.99 548.05 M176.07 538.31 L179.31 535.35 L179.31 548.05 M176.29 548.05 L182.34 548.05 M187.10 541.70 L194.45 541.70" fill="none" stroke="#505050" stroke-width="1.25" stroke-linecap="round" stroke-linejoin="round"/>
<path d="M212.45 548.05 L212.45 538.52 L214.71 535.35 L219.22 535.35 L221.48 538.52 L221.48 548.05 M212.45 542.55 L221.48 542.55 M224.42 535.35 L224.42 545.93 L226.68 548.05 L231.19 548.05 L233.45 545.93 L233.45 535.35 M236.38 548.05 L236.38 535.35 L243.16 535.35 L245.42 537.47 L245.42 545.93 L243.16 548.05 L236.38 548.05 M249.48 548.05 L256.25 548.05 M252.87 548.05 L252.87 535.35 M249.48 535.35 L256.25 535.35 M262.58 548.05 L260.32 545.93 L260.32 537.47 L262.58 535.35 L267.09 535.35 L269.35 537.47 L269.35 545.93 L267.09 548.05 L262.58 548.05" fill="none" stroke="#505050" stroke-width="1.25" stroke-linecap="round" stroke-linejoin="round"/>
<path d="M285.85 548.05 L285.85 535.35 L293.00 535.35 L295.39 537.47 L295.39 539.58 L293.00 541.70 L285.85 541.70 M300.88 548.05 L298.49 545.93 L298.49 537.47 L300.88 535.35 L305.64 535.35 L308.03 537.47 L308.03 545.93 L305.64 548.05 L300.88 548.05 M311.13 535.35 L311.13 548.05 L315.90 542.97 L320.67 548.05 L320.67 535.35 M333.31 548.05 L323.77 548.05 L323.77 535.35 L333.31 535.35 M323.77 541.70 L330.92 541.70 M336.41 548.05 L336.41 535.35 L343.57 535.35 L345.95 537.47 L345.95 539.58 L343.57 541.70 L336.41 541.70 M341.18 541.70 L345.95 548.05" fill="none" stroke="#505050" stroke-width="1.25" stroke-linecap="round" stroke-linejoin="round"/>
<path d="M361.65 548.05 L361.65 538.52 L363.96 535.35 L368.58 535.35 L370.89 538.52 L370.89 548.05 M361.65 542.55 L370.89 542.55 M373.89 548.05 L373.89 535.35 L378.51 540.01 L383.13 535.35 L383.13 548.05 M386.13 548.05 L386.13 535.35 L393.06 535.35 L395.37 537.47 L395.37 539.58 L393.06 541.70 L386.13 541.70 M398.37 535.35 L398.37 548.05 L407.61 548.05 M414.30 548.05 L416.15 548.05 L416.15 546.36 L414.30 546.36 L414.30 548.05" fill="none" stroke="#505050" stroke-width="1.25" stroke-linecap="round" stroke-linejoin="round"/>
<path d="M445.50 537.47 L443.14 535.35 L438.41 535.35 L436.05 537.47 L436.05 545.93 L438.41 548.05 L443.14 548.05 L445.50 545.93 L445.50 542.76 L443.14 540.64 L436.05 540.64 M450.94 548.05 L448.57 545.93 L448.57 537.47 L450.94 535.35 L455.66 535.35 L458.03 537.47 L458.03 545.93 L455.66 548.05 L450.94 548.05 M448.57 545.93 L458.03 537.47 M461.10 535.35 L461.10 548.05 L465.82 542.97 L470.55 548.05 L470.55 535.35" fill="none" stroke="#505050" stroke-width="1.25" stroke-linecap="round" stroke-linejoin="round"/>
<path d="M487.35 535.35 L487.35 548.05 L491.90 542.97 L496.46 548.05 L496.46 535.35 M500.55 548.05 L507.38 548.05 M503.97 548.05 L503.97 535.35 M500.55 535.35 L507.38 535.35 M511.48 535.35 L520.59 535.35 M516.03 535.35 L516.03 548.05 M523.54 548.05 L523.54 535.35 M532.65 548.05 L532.65 535.35 M523.54 541.70 L532.65 541.70" fill="none" stroke="#505050" stroke-width="1.25" stroke-linecap="round" stroke-linejoin="round"/>
<path d="M549.85 535.35 L559.25 535.35 M554.55 535.35 L554.55 548.05 M562.31 548.05 L562.31 535.35 L569.36 535.35 L571.71 537.47 L571.71 545.93 L569.36 548.05 L562.31 548.05 M574.77 548.05 L574.77 538.52 L577.12 535.35 L581.82 535.35 L584.17 538.52 L584.17 548.05 M574.77 542.55 L584.17 542.55 M587.23 535.35 L596.63 535.35 L596.63 537.04 L590.05 548.05 M599.69 545.93 L602.04 548.05 L606.74 548.05 L609.09 545.93 L609.09 537.47 L606.74 535.35 L602.04 535.35 L599.69 537.47 L599.69 540.64 L602.04 542.76 L609.09 542.76 M619.20 548.05 L619.20 535.35 L612.15 543.82 L621.55 543.82" fill="none" stroke="#505050" stroke-width="1.25" stroke-linecap="round" stroke-linejoin="round"/>
<path d="M656.62 543.25 L655.45 542.05 L653.12 542.05 L651.95 543.25 L651.95 544.45 L653.12 545.65 L655.45 545.65 L656.62 546.85 L656.62 548.05 L655.45 549.25 L653.12 549.25 L651.95 548.05 M658.72 544.45 L661.64 544.45 L662.81 545.65 L662.81 549.25 M662.81 546.49 L659.31 546.49 L658.14 547.33 L658.14 548.41 L659.31 549.25 L661.64 549.25 L662.81 548.41 M664.33 549.25 L664.33 544.45 M664.33 545.65 L665.50 544.45 L667.83 544.45 L669.00 545.65 L669.00 549.25 M676.71 543.25 L677.88 542.05 L680.21 542.05 L681.38 543.25 L681.38 544.45 L676.71 549.25 L681.38 549.25 M682.90 549.25 L687.57 542.05 M690.26 549.25 L689.09 548.05 L689.09 543.25 L690.26 542.05 L692.59 542.05 L693.76 543.25 L693.76 548.05 L692.59 549.25 L690.26 549.25 M689.09 548.05 L693.76 543.25 M698.78 549.25 L698.78 542.05 L695.28 546.85 L699.95 546.85" fill="none" stroke="#2c2c2c" stroke-width="1.35" stroke-linecap="round" stroke-linejoin="round"/>
</svg>
</body></html>
